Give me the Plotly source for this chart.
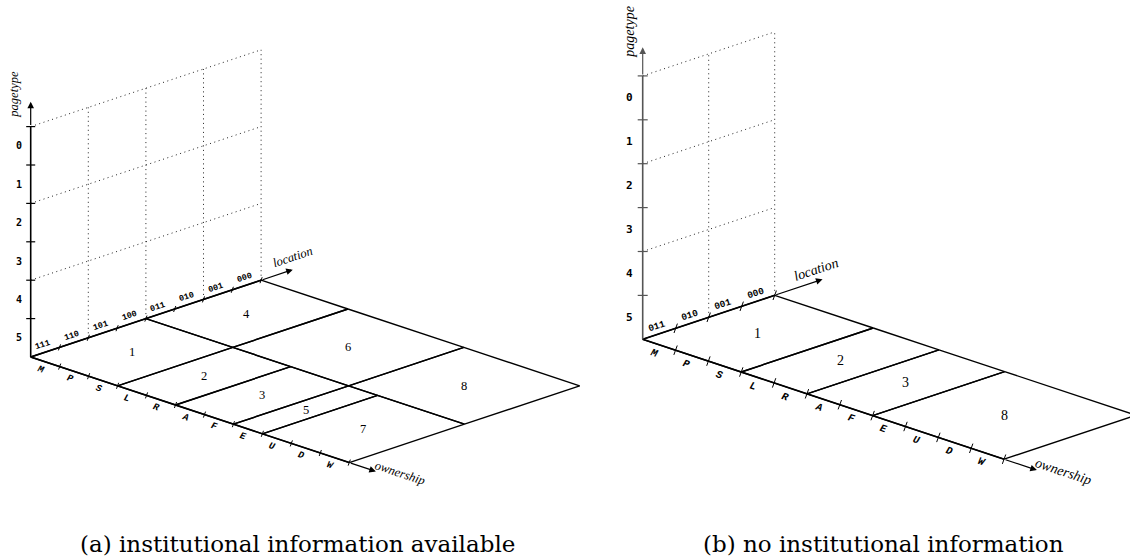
import math
import plotly.graph_objects as go

# ---------------- data ----------------
ownership_labels = ["M", "P", "S", "L", "R", "A", "F", "E", "U", "D", "W"]
pagetype_labels = ["0", "1", "2", "3", "4", "5"]          # top to bottom
location_labels_a = ["111", "110", "101", "100", "011", "010", "001", "000"]
location_labels_b = ["011", "010", "001", "000"]

# panel (a): regions given by first/last ownership and location category
region_ids_a = ["1", "2", "3", "4", "5", "6", "7", "8"]
region_own_from_a = ["M", "L", "A", "M", "E", "L", "U", "E"]
region_own_to_a = ["S", "R", "F", "S", "E", "F", "W", "W"]
region_loc_from_a = ["111", "111", "111", "011", "111", "011", "111", "011"]
region_loc_to_a = ["100", "100", "100", "000", "100", "000", "100", "000"]

# panel (b)
region_ids_b = ["1", "2", "3", "8"]
region_own_from_b = ["M", "L", "A", "E"]
region_own_to_b = ["S", "R", "F", "W"]
region_loc_from_b = ["011", "011", "011", "011"]
region_loc_to_b = ["000", "000", "000", "000"]

caption_a = "(a) institutional information available"
caption_b = "(b) no institutional information"

# ---------------- style / placement ----------------
panels = [
    dict(origin=(30.7, 357.0), own=(28.96, 9.6), loc=(28.8, -9.6), up=(0.0, -38.4),
         locs=location_labels_a, ids=region_ids_a, ofrom=region_own_from_a, oto=region_own_to_a,
         lfrom=region_loc_from_a, lto=region_loc_to_a, caption=caption_a, cap_x=297,
         tick=3.2, ptick=4.5, lab_off=7.4, own_off=8.5, own_shift=-2.0, pt_dx=-12.0,
         tick_font=8.5, own_font=9.5, pt_font=10, num_font=12.5, title_font=12.5,
         pt_title=(-16.7, -7.0), loc_title=(0.0, -13.0), own_title=(24.0, 1.3),
         loc_ext=1.1, own_ext=0.92, axis_color="#000000"),
    dict(origin=(642.7, 339.3), own=(32.85, 10.9), loc=(33.0, -11.0), up=(0.0, -43.9),
         locs=location_labels_b, ids=region_ids_b, ofrom=region_own_from_b, oto=region_own_to_b,
         lfrom=region_loc_from_b, lto=region_loc_to_b, caption=caption_b, cap_x=883,
         tick=5.0, ptick=5.0, lab_off=8.2, own_off=9.4, own_shift=-2.3, pt_dx=-13.4,
         tick_font=9.5, own_font=10.5, pt_font=11, num_font=14, title_font=14,
         pt_title=(-13.4, -16.0), loc_title=(-6.7, -10.3), own_title=(26.5, 1.8),
         loc_ext=1.45, own_ext=1.0, axis_color="#555555"),
]
PT_TOP = 6.65
GRID_STEP = 2
LINE_W = 1.4

fig = go.Figure()
annotations = []


def proj(p, a, b, h=0.0):
    ox, oy = p["origin"]
    return (ox + a * p["own"][0] + b * p["loc"][0] + h * p["up"][0],
            oy + a * p["own"][1] + b * p["loc"][1] + h * p["up"][1])


def seg_trace(segs, color, width, dash="solid"):
    xs, ys = [], []
    for (x0, y0), (x1, y1) in segs:
        xs += [x0, x1, None]
        ys += [y0, y1, None]
    fig.add_trace(go.Scatter(x=xs, y=ys, mode="lines", hoverinfo="skip",
                             line=dict(color=color, width=width, dash=dash)))


for p in panels:
    locs = p["locs"]
    nloc = len(locs)
    nown = len(ownership_labels)
    npt = len(pagetype_labels)
    loc_ang = math.degrees(math.atan2(p["loc"][1], p["loc"][0]))
    own_ang = math.degrees(math.atan2(p["own"][1], p["own"][0]))

    # dotted back wall grid
    dots = []
    for h in range(GRID_STEP, npt + 1, GRID_STEP):
        dots.append((proj(p, 0, 0, h), proj(p, 0, nloc, h)))
    for b in range(GRID_STEP, nloc + 1, GRID_STEP):
        dots.append((proj(p, 0, b, 0), proj(p, 0, b, npt)))
    seg_trace(dots, "#222222", 1.0, dash="1px,3.5px")

    # regions
    edges = []
    for rid, of, ot, lf, lt in zip(p["ids"], p["ofrom"], p["oto"], p["lfrom"], p["lto"]):
        a0 = ownership_labels.index(of)
        a1 = ownership_labels.index(ot) + 1
        b0 = locs.index(lf)
        b1 = locs.index(lt) + 1
        corners = [proj(p, a0, b0), proj(p, a1, b0), proj(p, a1, b1), proj(p, a0, b1), proj(p, a0, b0)]
        for c0, c1 in zip(corners[:-1], corners[1:]):
            edges.append((c0, c1))
        cx, cy = proj(p, (a0 + a1) / 2, (b0 + b1) / 2)
        annotations.append(dict(x=cx, y=cy, text=rid, showarrow=False,
                                font=dict(family="Liberation Serif", size=p["num_font"], color="#000")))
    seg_trace(edges, "#000000", LINE_W)

    # axes lines (up to arrow start)
    o = proj(p, 0, 0, 0)
    loc_end = proj(p, 0, nloc + p["loc_ext"], 0)
    own_end = proj(p, nown + p["own_ext"], 0, 0)
    pt_end = proj(p, 0, 0, PT_TOP)
    seg_trace([(o, proj(p, 0, nloc, 0)), (o, proj(p, nown, 0, 0))], "#000000", 1.6)
    seg_trace([(o, proj(p, 0, 0, npt))], p["axis_color"], 1.6)
    for tip, tail, col in [(loc_end, proj(p, 0, nloc, 0), "#000000"),
                           (own_end, proj(p, nown, 0, 0), "#000000"),
                           (pt_end, proj(p, 0, 0, npt), p["axis_color"])]:
        annotations.append(dict(x=tip[0], y=tip[1], ax=tail[0], ay=tail[1], axref="x", ayref="y",
                                text="", showarrow=True, arrowhead=2, arrowsize=1.1,
                                arrowwidth=1.2, arrowcolor=col, standoff=0, startstandoff=0))

    # ticks on location / ownership axes
    tdx, tdy = 0.34, -0.94
    t = p["tick"]
    ticks = []
    for b in range(1, nloc + 1):
        x, y = proj(p, 0, b)
        ticks.append(((x - tdx * t, y - tdy * t), (x + tdx * t, y + tdy * t)))
    for a in range(1, nown + 1):
        x, y = proj(p, a, 0)
        ticks.append(((x - tdx * t, y - tdy * t), (x + tdx * t, y + tdy * t)))
    seg_trace(ticks, "#000000", 1.0)
    # ticks on pagetype axis
    pt = p["ptick"]
    pticks = []
    for h in range(1, npt + 1):
        x, y = proj(p, 0, 0, h)
        pticks.append(((x - pt, y), (x + pt, y)))
    seg_trace(pticks, p["axis_color"], 1.2)

    # location tick labels
    ln = math.hypot(*p["loc"])
    ux, uy = p["loc"][0] / ln, p["loc"][1] / ln
    nx, ny = uy, -ux   # perpendicular pointing up
    for i, lab in enumerate(locs):
        x, y = proj(p, 0, i + 0.5)
        annotations.append(dict(x=x + nx * p["lab_off"], y=y + ny * p["lab_off"], text=lab,
                                showarrow=False, textangle=loc_ang,
                                font=dict(family="Liberation Mono", size=p["tick_font"],
                                          color="#000", weight="bold")))
    # ownership tick labels
    on = math.hypot(*p["own"])
    vx, vy = p["own"][0] / on, p["own"][1] / on
    mx, my = -vy, vx   # perpendicular pointing down-left
    for i, lab in enumerate(ownership_labels):
        x, y = proj(p, i + 0.5, 0)
        x += mx * p["own_off"] + vx * p["own_shift"]
        y += my * p["own_off"] + vy * p["own_shift"]
        annotations.append(dict(x=x, y=y, text=lab, showarrow=False, textangle=own_ang,
                                font=dict(family="Liberation Mono", size=p["own_font"],
                                          color="#000", weight="bold", style="italic")))
    # pagetype labels
    for i, lab in enumerate(pagetype_labels):
        x, y = proj(p, 0, 0, npt - i - 0.5)
        annotations.append(dict(x=x + p["pt_dx"], y=y, text=lab, showarrow=False,
                                font=dict(family="DejaVu Sans Mono", size=p["pt_font"],
                                          color="#000", weight="bold")))
    # axis titles
    tf = dict(family="Liberation Serif", size=p["title_font"], color="#000", style="italic")
    annotations.append(dict(x=pt_end[0] + p["pt_title"][0], y=pt_end[1] + p["pt_title"][1],
                            text="pagetype", showarrow=False, textangle=-90, font=tf))
    annotations.append(dict(x=loc_end[0] + p["loc_title"][0], y=loc_end[1] + p["loc_title"][1],
                            text="location", showarrow=False, textangle=loc_ang, font=tf))
    annotations.append(dict(x=own_end[0] + p["own_title"][0], y=own_end[1] + p["own_title"][1],
                            text="ownership", showarrow=False, textangle=own_ang, font=tf))
    # caption
    annotations.append(dict(x=p["cap_x"], y=544, text=p["caption"], showarrow=False,
                            font=dict(family="DejaVu Serif", size=23, color="#000")))

for an in annotations:
    an.setdefault("xref", "x")
    an.setdefault("yref", "y")

fig.update_layout(
    width=1130, height=560,
    margin=dict(l=0, r=0, t=0, b=0),
    paper_bgcolor="white", plot_bgcolor="white",
    showlegend=False,
    xaxis=dict(range=[0, 1130], visible=False, fixedrange=True),
    yaxis=dict(range=[560, 0], visible=False, fixedrange=True),
    annotations=annotations,
)
fig.write_html("out.html")
